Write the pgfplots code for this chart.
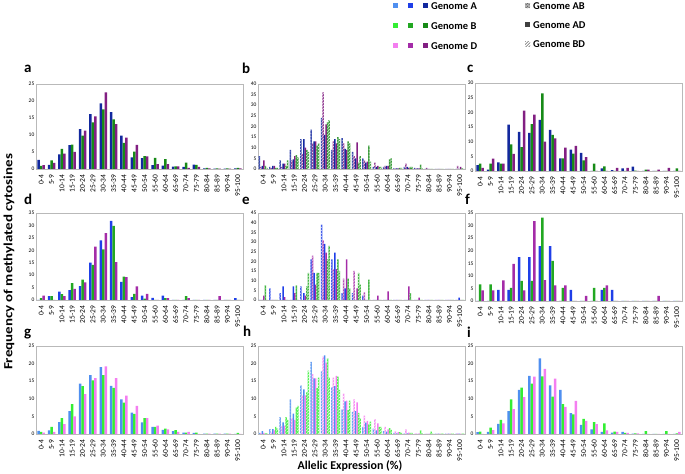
\documentclass[border=0pt]{standalone}
\usepackage{fontspec}
\setmainfont{Carlito}
\usepackage{pgfplots}
\usepackage{pgfplotstable}
\pgfplotsset{compat=1.18}
\usetikzlibrary{patterns}

\definecolor{Alight}{HTML}{4F8FF0}
\definecolor{Amid}{HTML}{1F3FE8}
\definecolor{Adark}{HTML}{12289E}
\definecolor{Blight}{HTML}{33EE33}
\definecolor{Bmid}{HTML}{22A822}
\definecolor{Bdark}{HTML}{178A17}
\definecolor{Dlight}{HTML}{F47EF0}
\definecolor{Dmid}{HTML}{A42CA8}
\definecolor{Ddark}{HTML}{821F82}

% panel a: genome A, B, D
\pgfplotstableread{
x A B D
0 2.7 0.9 1.1
1 1.2 2.5 1.8
2 4.3 5.9 4.5
3 7.0 7.2 5.0
4 11.7 9.8 11.3
5 16.1 13.7 15.5
6 19.3 17.5 22.5
7 16.7 14.6 13.2
8 9.8 7.7 9.2
9 3.4 5.1 7.1
10 3.2 3.8 3.7
11 1.1 3.3 1.4
12 1.0 2.9 1.4
13 0.7 0.8 0.8
14 0.6 1.9 0.3
15 1.3 1.2 0.6
16 0.2 0.3 0.2
17 0.1 0.2 0.1
18 0.1 0.2 0.1
19 0.2 0.3 0.2
}\tabA

% panel b: A(AB) D(BD) A(AD) D(AD) B(AB) B(BD)
\pgfplotstableread{
x aab dbd aad dad bab bbd
0 6 1 1.5 4 1.5 0.5
1 1 0.5 1.5 1.5 0.5 0.5
2 4 1 2.5 2.5 1.5 4
3 9 4 4.5 6 6.5 5.5
4 14 7 14 10 9 8
5 18.5 12 13 13 11 12
6 24 36 16 21 22 23
7 9 13 14 12 15 14
8 14.5 12 9.5 9 13 12
9 8 6 5 12.5 3 6
10 5 4 3 3.5 11 3.5
11 1 3 1 1.5 1 1
12 1 1.5 1.5 1.5 4.5 5
13 0.3 0.3 0.3 0.3 0.5 0.5
14 1 2.5 1 0.5 1 1
15 0.5 0.3 0.3 0.3 2 0.3
16 0 0.5 0 0 0 0
17 0 0 0 0 0 0
18 0 0 0 0 0 0
19 0 1.5 0 1 0.3 0
}\tabB

\pgfplotstableread{
x A B D
0 2 2.5 1.1
1 0.5 2.5 4.2
2 2.9 2.5 2.5
3 15.8 9.1 5.8
4 13.3 8.1 20.6
5 13 16 19.2
6 17.4 26.5 10
7 14 12.3 11.1
8 4.3 4.3 8
9 7.3 5.9 8.6
10 6.2 3.6 4.7
11 0 2.5 0
12 0.9 1.6 0
13 0.3 0 1.1
14 0.9 0 1.1
15 1.5 0.1 0
16 0 0.5 0.5
17 0 0 0.5
18 0 0 1.1
19 0 0.9 0
}\tabC

\pgfplotstableread{
x A B D
0 0 0.8 1.8
1 1.6 1.6 0
2 3.4 2.4 1.6
3 4 6.8 4.5
4 5.6 8.2 7.1
5 15 14.1 21.5
6 24 20.4 26.9
7 31.8 29.8 15.2
8 7.3 9.4 9.2
9 1.2 2.5 5.5
10 1.8 0.6 2.5
11 0.9 0 0
12 1.8 0.8 0.8
13 0 0 0
14 0 1.6 0.8
15 0 0 0
16 0 0 0
17 0 0 1.6
18 0 0 0
19 0.8 0 0
}\tabD

\pgfplotstableread{
x aab dbd aad dad bab bbd
0 0 0 0 2.3 7.5 0
1 6 0 0 0 0 0
2 3.5 0 7 1.5 0 0
3 0 0 7 3.5 7.5 0
4 7 0 3.5 2.3 7 14
5 21 23 14 8 14 14
6 39 31 29 24.5 21 28
7 21 16 24.5 16 21 15
8 3.5 11 6 21 11 6
9 3.5 15 0 6 14 8
10 2.3 4 0 0 10.5 0
11 0 0 0 2.3 0 0
12 0 0 0 4.5 0 0
13 0 0 0 0 0 0
14 0 0 0 7 3.5 0
15 0 0 0 1.2 0 0
16 0 0 0 0 0 0
17 0 0 0 0 0 0
18 0 0 0 0 0 0
19 0 0 1.2 0 0 0
}\tabE

\pgfplotstableread{
x A B D
0 0 6.6 4.2
1 0 6.6 4.2
2 4.4 0 8.2
3 4.4 5.2 14.8
4 17.4 8 4.2
5 17.4 8 31.8
6 21.8 33.2 8.3
7 21.8 16 6.2
8 0 5.2 6.2
9 4.4 0 0
10 0 0 2
11 0 5.2 0
12 4.4 5.2 6.2
13 4.4 0 0
14 0 0 0
15 0 0 0
16 0 0 0
17 0 0 2
18 0 0 0
19 0 0 0
}\tabF

\pgfplotstableread{
x A B D
0 0.9 0.6 0.4
1 1 2 0.6
2 3.4 4.5 2.8
3 6.5 8.5 5
4 14.3 13.6 11.3
5 16.7 15.2 15.9
6 19 16.7 19.2
7 13.7 13.1 15.9
8 9.8 8.9 10.9
9 6.1 5.7 8
10 3.3 4.5 4.5
11 2 2 2.4
12 1.2 1.5 1.3
13 0.8 1.1 0.6
14 0.4 0.4 0.6
15 0.3 0.4 0
16 0.1 0.1 0.1
17 0.1 0.1 0.1
18 0.1 0.1 0.1
19 0 0.3 0
}\tabG

\pgfplotstableread{
x aab dbd aad dad bab bbd
0 0.3 0.3 0.8 0.3 0.2 0.2
1 1.4 0.5 1.4 1 2 1.5
2 4.8 2.2 3.3 2.4 4.8 4
3 9.8 4.5 5.8 4 7.5 8
4 13.8 11 12.7 11 11.8 18
5 20.5 17 15.8 15.8 13 16
6 17.8 22 22.3 20.3 21.5 16
7 13.3 16 13.6 16.5 16.3 12.5
8 7 11.5 9.3 9.5 6.8 9.5
9 6.3 9.8 6.5 9 6 4.5
10 2 5.2 3.2 3.7 2.7 3.5
11 1.5 4.2 1 3 2 2
12 0.8 2 0.7 1.3 1.7 1.2
13 0.3 0.8 0.2 0.5 0.5 0.3
14 0.2 1.3 0.2 0.4 0.3 0.3
15 0 0.2 0 0.2 1 0.2
16 0 0.1 0 0.1 0.7 0.1
17 0.1 0.1 0.1 0.1 0.1 0.1
18 0.1 0.1 0.1 0.1 0.1 0.1
19 0.1 0.2 0.1 0.1 0.1 0.1
}\tabH

\pgfplotstableread{
x A B D
0 0.5 0.7 0
1 0.6 1.8 1.1
2 2.9 4 3
3 6.5 9.8 7.1
4 12.5 13.2 10.5
5 16.5 14.3 16.3
6 21.5 16.4 18.5
7 13.8 10.6 15.7
8 12.5 8.5 7.7
9 5.9 5.6 9.4
10 2.6 4.3 3.7
11 1.3 3.4 2.8
12 0.6 3 1
13 0.4 0.7 0.6
14 0.6 0.3 0.3
15 0.1 0.2 0.2
16 0 0.8 0
17 0 0 0
18 0 0.8 0
19 0 0.2 0.6
}\tabI

\pgfplotsset{
  panel/.style={
    scale only axis, width=207bp, anchor=south west,
    ymin=0, xmin=-0.5, xmax=19.5,
    ybar=0pt, bar width=2.5bp,
    xtick={0,...,19},
    xticklabels={0-4,5-9,10-14,15-19,20-24,25-29,30-34,35-39,40-44,45-49,50-54,55-60,60-64,65-69,70-74,75-79,80-84,85-89,90-94,95-100},
    x tick label style={rotate=90, anchor=east, font=\fontsize{7.5}{7.5}\selectfont, inner sep=1.5bp},
    y tick label style={font=\fontsize{5.5}{6}\selectfont, inner sep=1.5bp},
    /pgf/number format/assume math mode=true,
    axis line style={draw=gray!55, line width=0.9bp},
    tick style={draw=none},
  },
  six/.style={bar width=1.5bp},
  solid bar/.style={fill=#1, draw=none},
  dot bar/.style={fill=#1!85, draw=none, postaction={pattern=crosshatch dots, pattern color=white}},
  line bar/.style={fill=#1!85, draw=none, postaction={pattern=north east lines, pattern color=white}},
}

\newcommand{\threebars}[4]{%
  \addplot[solid bar=#2] table[x=x,y=A]{#1};
  \addplot[solid bar=#3] table[x=x,y=B]{#1};
  \addplot[solid bar=#4] table[x=x,y=D]{#1};
}
\newcommand{\sixbars}[4]{%
  \addplot[dot bar=#2] table[x=x,y=aab]{#1};
  \addplot[line bar=#4] table[x=x,y=dbd]{#1};
  \addplot[solid bar=#2] table[x=x,y=aad]{#1};
  \addplot[solid bar=#4] table[x=x,y=dad]{#1};
  \addplot[dot bar=#3] table[x=x,y=bab]{#1};
  \addplot[line bar=#3] table[x=x,y=bbd]{#1};
}

\begin{document}
\begin{tikzpicture}[x=1bp,y=1bp]
\path[use as bounding box] (0,0) rectangle (685,474);

% row 1
\begin{axis}[panel, at={(36bp,305bp)}, height=85bp, ymax=25, ytick={0,5,...,25}]
\threebars{\tabA}{Adark}{Bdark}{Ddark}
\end{axis}
\begin{axis}[panel, six, at={(258bp,305bp)}, height=85bp, ymax=40, ytick={0,5,...,40}]
\sixbars{\tabB}{Adark}{Bdark}{Ddark}
\end{axis}
\begin{axis}[panel, at={(475bp,303bp)}, height=88bp, ymax=30, ytick={0,5,...,30}]
\threebars{\tabC}{Adark}{Bdark}{Ddark}
\end{axis}

% row 2
\begin{axis}[panel, at={(36bp,174bp)}, height=87bp, ymax=35, ytick={0,5,...,35}]
\threebars{\tabD}{Amid}{Bmid}{Dmid}
\end{axis}
\begin{axis}[panel, six, at={(258bp,174bp)}, height=87bp, ymax=45, ytick={0,5,...,45}]
\sixbars{\tabE}{Amid}{Bmid}{Dmid}
\end{axis}
\begin{axis}[panel, at={(475bp,173bp)}, height=88bp, ymax=35, ytick={0,5,...,35}]
\threebars{\tabF}{Amid}{Bmid}{Dmid}
\end{axis}

% row 3
\begin{axis}[panel, at={(36bp,40bp)}, height=88bp, ymax=25, ytick={0,5,...,25}]
\threebars{\tabG}{Alight}{Blight}{Dlight}
\end{axis}
\begin{axis}[panel, six, at={(258bp,40bp)}, height=88bp, ymax=25, ytick={0,5,...,25}]
\sixbars{\tabH}{Alight}{Blight}{Dlight}
\end{axis}
\begin{axis}[panel, at={(475bp,40bp)}, height=88bp, ymax=25, ytick={0,5,...,25}]
\threebars{\tabI}{Alight}{Blight}{Dlight}
\end{axis}

% panel letters
\begin{scope}[every node/.style={font=\fontsize{15}{15}\selectfont\bfseries, anchor=base west, inner sep=0pt}]
\node at (24,401) {a};
\node at (242,400) {b};
\node at (467,401) {c};
\node at (24,269) {d};
\node at (242,269) {e};
\node at (465,269) {f};
\node at (24,137) {g};
\node at (243,137) {h};
\node at (467,136) {i};
\end{scope}

% axis titles
\node[rotate=90, font=\fontsize{12.5}{12.5}\selectfont\bfseries] at (9,212) {\scalebox{1.2}[1]{Frequency of methylated cytosines}};
\node[font=\fontsize{12}{12}\selectfont\bfseries] at (350,8) {Allelic Expression (\%)};

% legend
\begin{scope}[every node/.style={font=\fontsize{10.5}{10.5}\selectfont\bfseries, anchor=west, inner sep=0pt}]
\foreach \yy/\la/\lb/\lc/\txt in {468/Alight/Amid/Adark/Genome A, 448/Blight/Bmid/Bdark/Genome B, 428/Dlight/Dmid/Ddark/Genome D}{
  \fill[\la] (393,\yy-2.5) rectangle ++(5,5);
  \fill[\lb] (408,\yy-2.5) rectangle ++(5,5);
  \fill[\lc] (423,\yy-2.5) rectangle ++(5,5);
  \node at (431,\yy) {\txt};
}
\fill[gray!60] (525,465.5) rectangle ++(5,5);
\path[pattern=crosshatch dots, pattern color=black!80] (525,465.5) rectangle ++(5,5);
\node at (533,468) {Genome AB};
\fill[black!75] (525,446.5) rectangle ++(5,5);
\node at (533,449) {Genome AD};
\path[pattern=north east lines, pattern color=black!80] (525,427.5) rectangle ++(5,5);
\node at (533,430) {Genome BD};
\end{scope}
\end{tikzpicture}
\end{document}
